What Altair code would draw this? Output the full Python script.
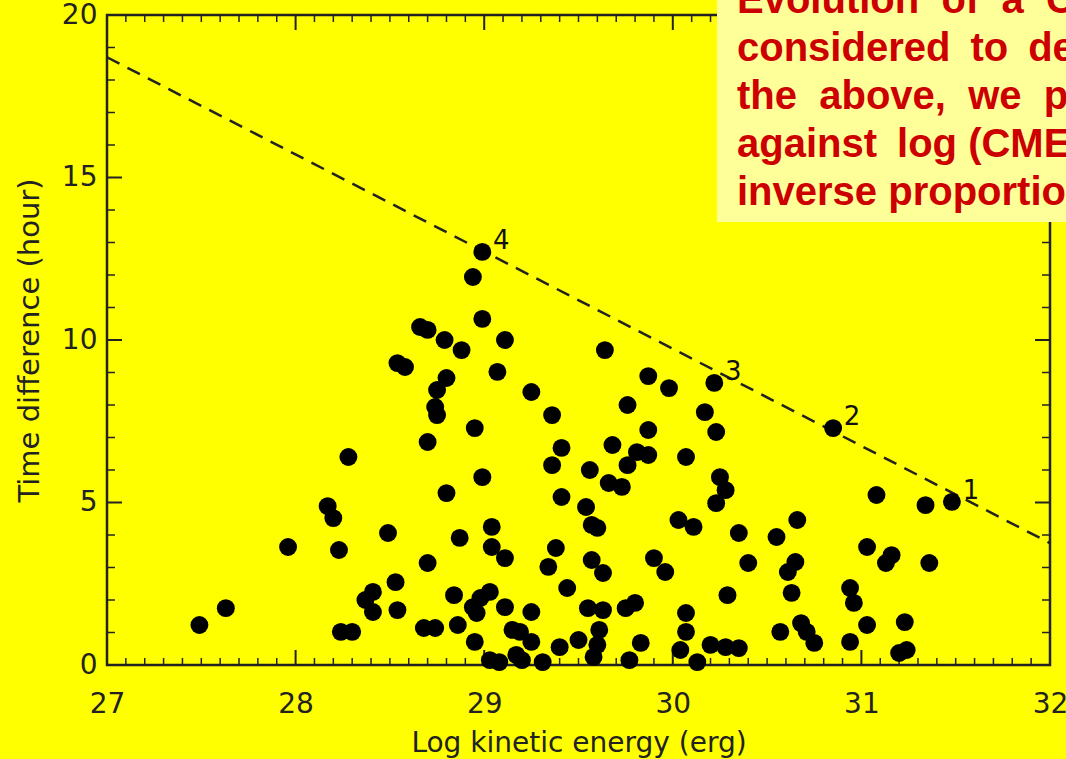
import altair as alt
import pandas as pd

# ---- scatter data: log kinetic energy (erg) vs time difference (hour) ----
log_ke = [
    27.49, 27.63, 27.96, 28.17, 28.20, 28.23, 28.28, 28.24, 28.30, 28.37, 28.41, 28.41, 28.49, 28.53, 28.54,
    28.70, 28.99, 28.80, 29.41, 29.36, 29.41, 28.87, 29.04, 29.04, 29.11, 29.38, 29.34, 28.70, 29.44, 28.84,
    29.03, 28.98, 28.94, 28.96, 29.11, 29.25, 28.68, 28.74, 28.86, 28.95, 29.15, 29.19, 29.25, 29.40, 29.03,
    29.08, 29.17, 29.20, 29.31,
    28.99, 28.94, 28.99, 28.66, 28.70, 28.79, 28.88, 29.11, 28.54, 28.58, 28.80, 28.75, 28.74, 28.75, 29.07,
    29.25, 29.36, 28.95,
    29.64, 29.87, 29.98, 30.22, 29.76, 30.17, 29.87, 30.23,
    29.68, 29.81, 29.87, 29.76, 29.56, 29.66, 29.73, 30.07, 30.25, 30.28, 30.23, 29.54, 29.57, 29.60, 30.03,
    30.11, 30.35, 29.57, 29.63, 29.90, 29.96, 30.40, 30.29, 29.55, 29.63, 29.75, 29.80, 30.07, 30.07, 29.50,
    29.61, 29.60, 29.83, 29.77, 29.58, 30.04, 30.13, 30.20, 30.28, 30.35,
    31.08, 31.34, 31.48, 30.66, 30.55, 31.03, 31.16, 31.13, 31.36, 30.65, 30.61, 30.63, 30.94, 30.96, 30.57,
    30.68, 30.71, 30.75, 31.03, 31.23, 30.94, 31.20, 31.24, 30.85,
]
time_diff = [
    1.23, 1.75, 3.63, 4.89, 4.52, 3.54, 6.40, 1.02, 1.02, 2.00, 2.25, 1.63, 4.06, 2.55, 1.69,
    6.86, 5.78, 5.29, 6.68, 6.15, 5.17, 3.91, 4.25, 3.63, 3.29, 3.60, 3.02, 3.14, 2.37, 2.15,
    2.25, 2.06, 1.78, 1.60, 1.78, 1.63, 1.14, 1.14, 1.23, 0.71, 1.08, 1.02, 0.71, 0.55, 0.15,
    0.09, 0.31, 0.15, 0.09,
    12.71, 11.94, 10.65, 10.40, 10.31, 10.00, 9.69, 10.00, 9.29, 9.17, 8.83, 8.46, 7.94, 7.69, 9.02,
    8.40, 7.69, 7.29,
    9.69, 8.89, 8.52, 8.68, 8.00, 7.78, 7.23, 7.17,
    6.77, 6.55, 6.46, 6.15, 6.00, 5.60, 5.48, 6.40, 5.78, 5.38, 4.98, 4.86, 4.31, 4.22, 4.46,
    4.25, 4.06, 3.23, 2.83, 3.29, 2.86, 3.14, 2.15, 1.75, 1.69, 1.75, 1.91, 1.60, 1.02, 0.77,
    1.08, 0.62, 0.68, 0.15, 0.25, 0.46, 0.09, 0.62, 0.55, 0.52,
    5.23, 4.92, 5.02, 4.46, 3.94, 3.63, 3.38, 3.14, 3.14, 3.17, 2.86, 2.22, 2.37, 1.91, 1.02,
    1.29, 1.02, 0.68, 1.23, 1.32, 0.71, 0.37, 0.46, 7.29,
]

# numbered events on the envelope
label_x = [31.48, 30.85, 30.22, 28.99]
label_y = [5.02, 7.29, 8.68, 12.71]
label_text = ["1", "2", "3", "4"]

# dashed envelope line
fit_x = [27.0, 32.0]
fit_y = [18.7, 3.75]

# axis ticks
x_major = [27, 28, 29, 30, 31, 32]
x_minor = [round(27 + i * 0.1, 1) for i in range(51) if i % 10 != 0]
y_major = [0, 5, 10, 15, 20]
y_minor = [v for v in range(21) if v % 5 != 0]

NB = "\u00a0"
EN = "\u2002"
box_lines = [
    "Evolution" + NB * 2 + "of" + NB * 2 + "a" + NB * 2 + "CME",
    "considered" + EN + "to" + EN + "depend",
    "the" + NB * 2 + "above," + NB * 2 + "we" + NB * 2 + "plot",
    "against" + EN + "log" + NB + "(CME",
    "inverse proportional",
]

W, H = 943, 650
AX = "#222222"
xs = alt.Scale(domain=[27, 32], nice=False, zero=False)
ys = alt.Scale(domain=[0, 20], nice=False, zero=False)

AXX = alt.Axis(
    values=x_major, format="d", title="Log kinetic energy (erg)", ticks=False, tickSize=0,
    domain=False, grid=False, labelFlush=False, labelPadding=25, labelFontSize=28,
    labelFont="DejaVu Sans", labelColor=AX, titleFont="DejaVu Sans", titleFontSize=28,
    titleFontWeight="normal", titleColor=AX, titleX=W / 2, titleY=86,
    titleBaseline="alphabetic", titleAlign="center")
AXY = alt.Axis(
    values=y_major, format="d", title="Time difference (hour)", ticks=False, tickSize=0,
    domain=False, grid=False, labelFlush=False, labelPadding=10, labelFontSize=28,
    labelFont="DejaVu Sans", labelColor=AX, titleFont="DejaVu Sans", titleFontSize=29,
    titleFontWeight="normal", titleColor=AX, titleX=-69, titleY=H / 2, titleAngle=270,
    titleBaseline="alphabetic", titleAlign="center")

pts = pd.DataFrame({"x": log_ke, "y": time_diff})
lab = pd.DataFrame({"x": label_x, "y": label_y, "t": label_text})
fit = pd.DataFrame({"x": fit_x, "y": fit_y})
one = pd.DataFrame({"a": [0]})


def X(f):
    return alt.X(f, scale=xs, axis=AXX)


def Y(f):
    return alt.Y(f, scale=ys, axis=AXY)


def xtick(vals, y0, y1, sw):
    return alt.Chart(pd.DataFrame({"x": vals})).mark_rule(color=AX, strokeWidth=sw).encode(
        x=X("x:Q"), y=alt.value(y0), y2=alt.value(y1))


def ytick(vals, x0, x1, sw):
    return alt.Chart(pd.DataFrame({"y": vals})).mark_rule(color=AX, strokeWidth=sw).encode(
        y=Y("y:Q"), x=alt.value(x0), x2=alt.value(x1))


ticks = [
    xtick(x_major, H, H - 15, 2), xtick(x_minor, H, H - 7, 1.5),
    xtick(x_major, 0, 15, 2), xtick(x_minor, 0, 7, 1.5),
    ytick(y_major, 0, 15, 2), ytick(y_minor, 0, 8, 1.5),
    ytick(y_major, W, W - 15, 2), ytick(y_minor, W, W - 8, 1.5),
]

line = alt.Chart(fit).mark_line(color=AX, strokeWidth=2.5, strokeDash=[14, 9]).encode(
    x=X("x:Q"), y=Y("y:Q"))

dots = alt.Chart(pts).mark_circle(color="black", opacity=1, size=320).encode(
    x=X("x:Q"), y=Y("y:Q"))

labels = alt.Chart(lab).mark_text(dx=19, dy=-11, fontSize=26, font="DejaVu Sans", color="#111111",
                                  align="center", baseline="middle").encode(
    x=X("x:Q"), y=Y("y:Q"), text="t:N")

box = alt.Chart(one).mark_rect(color="#FFFF99").encode(
    x=alt.value(610), x2=alt.value(1000), y=alt.value(-20), y2=alt.value(207))

box_text = alt.Chart(one).mark_text(
    text=box_lines, lineHeight=48, font="Liberation Sans", fontWeight="bold", fontSize=40,
    color="#CC0000", align="left", baseline="alphabetic").encode(
    x=alt.value(630), y=alt.value(-2))

chart = alt.layer(*ticks, line, dots, labels, box, box_text).properties(
    width=W, height=H,
    padding={"left": 107, "top": 15, "right": 16, "bottom": 94},
    autosize=alt.AutoSizeParams(type="none"),
    background="#FFFF00",
).configure_view(stroke=AX, strokeWidth=2.5)

chart.save("out.html", embed_options={"renderer": "svg", "actions": False})
